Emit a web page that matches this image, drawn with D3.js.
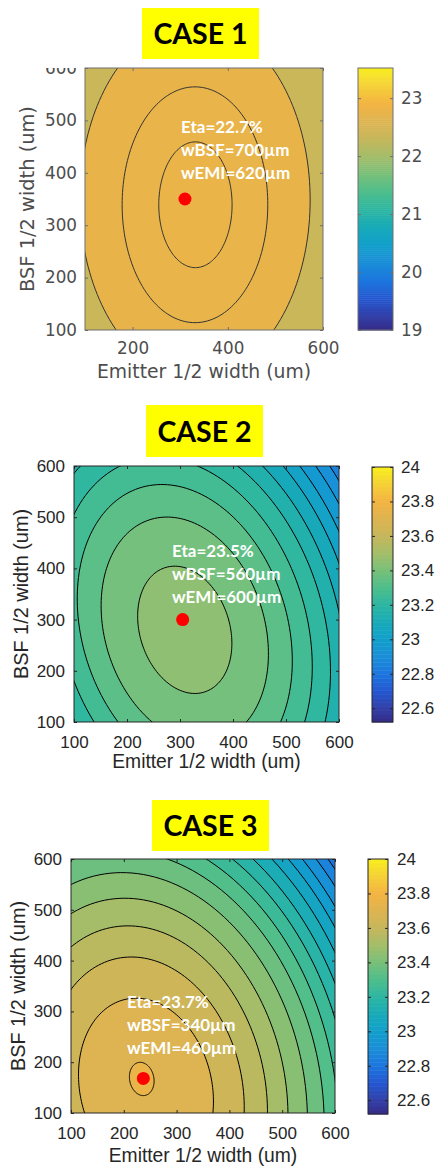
<!DOCTYPE html>
<html>
<head>
<meta charset="utf-8">
<script src="https://cdn.jsdelivr.net/npm/d3@7"></script>
<style>
body { margin: 0; background: #fff; }
</style>
</head>
<body>
<div id="chart"></div>
<script>
// ---------- data ----------
var caseTitles = ["CASE 1", "CASE 2", "CASE 3"];
var xLabel = "Emitter 1/2 width (um)";
var yLabel = "BSF 1/2 width (um)";
var axisDomain = [100, 600];
var p1XTicks = [200, 400, 600];
var p1YTicks = [100, 200, 300, 400, 500, 600];
var p23Ticks = [100, 200, 300, 400, 500, 600];
var p1CbDomain = [19, 23.52];
var p1CbTicks = [19, 20, 21, 22, 23];
var p23CbDomain = [22.52, 24.0];
var p23CbTicks = [22.6, 22.8, 23, 23.2, 23.4, 23.6, 23.8, 24];

// contour ellipses, outer -> inner (um); level in %
var p1Base = 22.35;
var p1Levels = [22.75, 22.77, 22.79];
var p1Cx = [331, 331, 332];
var p1Cy = [348, 339, 339];
var p1Rx = [242, 153, 77];
var p1Ry = [340, 225, 120];
var p1Rot = [0, 0, 0];
var p1Opt = [310, 350];
var p1Notes = ["Eta=22.7%", "wBSF=700\u00b5m", "wEMI=620\u00b5m"];

var p2Base = 22.85;
var p2Levels = [22.91, 22.97, 23.03, 23.09, 23.15, 23.21, 23.27, 23.33, 23.39, 23.45];
var p2Cx = [309, 309, 309, 309, 309, 309, 309, 309, 309, 309];
var p2Cy = [280, 280, 280, 280, 280, 280, 280, 280, 280, 280];
var p2Rx = [384, 363, 340, 317, 291, 263, 230, 194, 151, 85];
var p2Ry = [574, 542, 508, 474, 434, 392, 344, 290, 225, 127];
var p2Rot = [16, 16, 16, 16, 16, 16, 16, 16, 16, 16];
var p2Opt = [305, 300];
var p2Notes = ["Eta=23.5%", "wBSF=560\u00b5m", "wEMI=600\u00b5m"];

var p3Base = 22.66;
var p3Levels = [22.725, 22.79, 22.855, 22.92, 22.985, 23.05, 23.115, 23.18, 23.245, 23.31,
                23.375, 23.44, 23.505, 23.57, 23.635, 23.70, 23.765];
var p3Cx = [242, 242, 242, 242, 242, 242, 242, 242, 242, 242, 242, 242, 242, 242, 242, 242, 234];
var p3Cy = [149, 149, 149, 149, 149, 149, 149, 149, 149, 149, 149, 149, 149, 149, 149, 149, 167];
var p3Rx = [536, 519, 502, 485, 466, 447, 426, 403, 381, 356, 330, 299, 263, 225, 182, 125, 23];
var p3Ry = [769, 744, 720, 696, 668, 641, 611, 579, 546, 511, 473, 429, 378, 323, 261, 179, 33];
var p3Rot = [12, 12, 12, 12, 12, 12, 12, 12, 12, 12, 12, 12, 12, 12, 12, 12, 10];
var p3Opt = [237, 168];
var p3Notes = ["Eta=23.7%", "wBSF=340\u00b5m", "wEMI=460\u00b5m"];

// colour map (parula-like, as it looks in the picture)
var cmapT = [0, 0.054, 0.12, 0.19, 0.257, 0.324, 0.39, 0.46, 0.527, 0.595, 0.66, 0.73, 0.797, 0.865, 0.93, 1];
var cmapC = ["#352a87", "#3340a8", "#2456d0", "#1c76de", "#1a8ed8", "#129fcc", "#17aab9", "#2db6a2",
             "#4ebe8c", "#78c07a", "#a2be6a", "#c6b75c", "#ddb451", "#f3b443", "#f5cf38", "#f8ee1e"];
var cmap = d3.scaleLinear().domain(cmapT).range(cmapC).interpolate(d3.interpolateRgb).clamp(true);

// ---------- layout ----------
var panels = [
  {title: caseTitles[0], titleBox: [142, 8, 259, 59], titleBase: 44,
   plot: [85, 68, 323, 330], cb: [358, 68, 393, 330],
   xt: p1XTicks, yt: p1YTicks, cbDomain: p1CbDomain, cbTicks: p1CbTicks, cbSteps: 128,
   base: p1Base, lv: p1Levels, cx: p1Cx, cy: p1Cy, rx: p1Rx, ry: p1Ry, rot: p1Rot,
   opt: p1Opt, notes: p1Notes, noteX: 181, noteY: 133,
   font: "'DejaVu Sans', sans-serif", txt: "#4d4d4d", tickFs: 16.8, labFs: 18.8,
   line: "#333", frame: "#6e6e6e", xPad: 12, yPad: 8, cbPad: 8,
   xLabBase: 378, yLabX: 34, clipTop: 68},
  {title: caseTitles[1], titleBox: [146, 405, 263, 457], titleBase: 442,
   plot: [74, 466, 339, 722], cb: [372, 467, 393, 722],
   xt: p23Ticks, yt: p23Ticks, cbDomain: p23CbDomain, cbTicks: p23CbTicks, cbSteps: 64,
   base: p2Base, lv: p2Levels, cx: p2Cx, cy: p2Cy, rx: p2Rx, ry: p2Ry, rot: p2Rot,
   opt: p2Opt, notes: p2Notes, noteX: 172, noteY: 557,
   font: "'Liberation Sans', Arial, sans-serif", txt: "#262626", tickFs: 17, labFs: 19.3,
   line: "#000", frame: "#262626", xPad: 14, yPad: 9, cbPad: 8,
   xLabBase: 768, yLabX: 28, clipTop: 0},
  {title: caseTitles[2], titleBox: [152, 800, 269, 851], titleBase: 836,
   plot: [71, 859, 335, 1113], cb: [368, 859, 388, 1114],
   xt: p23Ticks, yt: p23Ticks, cbDomain: p23CbDomain, cbTicks: p23CbTicks, cbSteps: 64,
   base: p3Base, lv: p3Levels, cx: p3Cx, cy: p3Cy, rx: p3Rx, ry: p3Ry, rot: p3Rot,
   opt: p3Opt, notes: p3Notes, noteX: 127, noteY: 1008,
   font: "'Liberation Sans', Arial, sans-serif", txt: "#262626", tickFs: 17, labFs: 19.3,
   line: "#000", frame: "#262626", xPad: 14, yPad: 9, cbPad: 9,
   xLabBase: 1162, yLabX: 25, clipTop: 0}
];

var svg = d3.select("#chart").append("svg")
  .attr("width", 438)
  .attr("height", 1167);
var defs = svg.append("defs");

var line = d3.line().curve(d3.curveLinearClosed);

function ellipsePath(p, i, x, y) {
  var th = p.rot[i] * Math.PI / 180, pts = [];
  for (var k = 0; k < 180; k++) {
    var t = k / 180 * 2 * Math.PI;
    var ex = p.rx[i] * Math.cos(t), ey = p.ry[i] * Math.sin(t);
    var dx = p.cx[i] + ex * Math.cos(th) - ey * Math.sin(th);
    var dy = p.cy[i] + ex * Math.sin(th) + ey * Math.cos(th);
    pts.push([x(dx), y(dy)]);
  }
  return line(pts);
}

panels.forEach(function(p, pi) {
  var g = svg.append("g");
  var x = d3.scaleLinear().domain(axisDomain).range([p.plot[0], p.plot[2]]);
  var y = d3.scaleLinear().domain(axisDomain).range([p.plot[3], p.plot[1]]);
  var col = function(v) { return cmap((v - p.cbDomain[0]) / (p.cbDomain[1] - p.cbDomain[0])); };

  // title
  g.append("rect")
    .attr("x", p.titleBox[0]).attr("y", p.titleBox[1])
    .attr("width", p.titleBox[2] - p.titleBox[0]).attr("height", p.titleBox[3] - p.titleBox[1])
    .attr("fill", "#ffff00");
  g.append("text")
    .attr("x", (p.titleBox[0] + p.titleBox[2]) / 2).attr("y", p.titleBase)
    .attr("text-anchor", "middle")
    .style("font", "bold 28.5px Lato, 'Open Sans', sans-serif")
    .attr("fill", "#000")
    .text(p.title);

  // filled contours
  var clipId = "clip" + pi;
  defs.append("clipPath").attr("id", clipId)
    .append("rect")
    .attr("x", p.plot[0]).attr("y", p.plot[1])
    .attr("width", p.plot[2] - p.plot[0]).attr("height", p.plot[3] - p.plot[1]);

  var cg = g.append("g").attr("clip-path", "url(#" + clipId + ")");
  cg.append("rect")
    .attr("x", p.plot[0]).attr("y", p.plot[1])
    .attr("width", p.plot[2] - p.plot[0]).attr("height", p.plot[3] - p.plot[1])
    .attr("fill", col(p.base));
  cg.selectAll("path.ct")
    .data(p.lv)
    .enter()
    .append("path")
    .attr("class", "ct")
    .attr("d", function(d, i) { return ellipsePath(p, i, x, y); })
    .attr("fill", function(d) { return col(d); })
    .attr("stroke", p.line)
    .attr("stroke-width", 1);

  // optimum point + notes
  g.append("circle")
    .attr("cx", x(p.opt[0])).attr("cy", y(p.opt[1]))
    .attr("r", 6.5).attr("fill", "#ff0000");
  g.selectAll("text.note")
    .data(p.notes)
    .enter()
    .append("text")
    .attr("class", "note")
    .attr("x", p.noteX)
    .attr("y", function(d, i) { return p.noteY + i * 23; })
    .attr("fill", "#fff")
    .style("font", "bold 17px Lato, 'Open Sans', sans-serif")
    .text(function(d) { return d; });

  // axes (MATLAB style, ticks inside, box on)
  var ax = [
    {a: d3.axisBottom(x).tickValues(p.xt).tickPadding(p.xPad), t: "translate(0," + p.plot[3] + ")"},
    {a: d3.axisTop(x).tickValues(p.xt).tickFormat(""), t: "translate(0," + p.plot[1] + ")"},
    {a: d3.axisLeft(y).tickValues(p.yt).tickPadding(p.yPad), t: "translate(" + p.plot[0] + ",0)", clip: true},
    {a: d3.axisRight(y).tickValues(p.yt).tickFormat(""), t: "translate(" + p.plot[2] + ",0)"}
  ];
  if (p.clipTop) {
    // the top "600" label of case 1 is cut off in the figure
    defs.append("clipPath").attr("id", "lc" + pi)
      .append("rect").attr("x", -200).attr("y", p.clipTop).attr("width", 400).attr("height", 400);
  }
  ax.forEach(function(o) {
    var ag = g.append("g").attr("transform", o.t)
      .call(o.a.tickSize(-3));
    ag.select(".domain").remove();
    ag.selectAll("line").attr("stroke", p.frame);
    ag.selectAll("text").style("font-size", p.tickFs + "px").style("font-family", p.font).attr("fill", p.txt);
    if (o.clip && p.clipTop) ag.attr("clip-path", "url(#lc" + pi + ")");
  });
  g.append("rect")
    .attr("x", p.plot[0]).attr("y", p.plot[1])
    .attr("width", p.plot[2] - p.plot[0]).attr("height", p.plot[3] - p.plot[1])
    .attr("fill", "none").attr("stroke", p.frame).attr("stroke-width", 1);

  g.append("text")
    .attr("x", (p.plot[0] + p.plot[2]) / 2).attr("y", p.xLabBase)
    .attr("text-anchor", "middle")
    .style("font-family", p.font).style("font-size", p.labFs + "px")
    .attr("fill", p.txt)
    .text(xLabel);
  g.append("text")
    .attr("transform", "translate(" + p.yLabX + "," + (p.plot[1] + p.plot[3]) / 2 + ") rotate(-90)")
    .attr("text-anchor", "middle")
    .style("font-family", p.font).style("font-size", (p.labFs + 0.6) + "px")
    .attr("fill", p.txt)
    .text(yLabel);

  // colour bar
  var yc = d3.scaleLinear().domain(p.cbDomain).range([p.cb[3], p.cb[1]]);
  var steps = d3.range(p.cbSteps).map(function(i) {
    return p.cbDomain[0] + (p.cbDomain[1] - p.cbDomain[0]) * i / p.cbSteps;
  });
  var dv = (p.cbDomain[1] - p.cbDomain[0]) / p.cbSteps;
  g.selectAll("rect.cb")
    .data(steps)
    .enter()
    .append("rect")
    .attr("class", "cb")
    .attr("x", p.cb[0])
    .attr("width", p.cb[2] - p.cb[0])
    .attr("y", function(d) { return yc(d + dv); })
    .attr("height", function(d) { return yc(d) - yc(d + dv) + 0.5; })
    .attr("fill", function(d) { return col(d + dv / 2); });

  var cr = g.append("g").attr("transform", "translate(" + p.cb[2] + ",0)")
    .call(d3.axisRight(yc).tickValues(p.cbTicks).tickSize(-3).tickPadding(p.cbPad)
      .tickFormat(function(d) { return d3.format("~g")(d); }));
  cr.select(".domain").remove();
  cr.selectAll("line").attr("stroke", p.frame);
  cr.selectAll("text").style("font-size", p.tickFs + "px").style("font-family", p.font).attr("fill", p.txt);
  var cl = g.append("g").attr("transform", "translate(" + p.cb[0] + ",0)")
    .call(d3.axisLeft(yc).tickValues(p.cbTicks).tickSize(-3).tickFormat(""));
  cl.select(".domain").remove();
  cl.selectAll("line").attr("stroke", p.frame);
  g.append("rect")
    .attr("x", p.cb[0]).attr("y", p.cb[1])
    .attr("width", p.cb[2] - p.cb[0]).attr("height", p.cb[3] - p.cb[1])
    .attr("fill", "none").attr("stroke", p.frame).attr("stroke-width", 1);
});
</script>
</body>
</html>
